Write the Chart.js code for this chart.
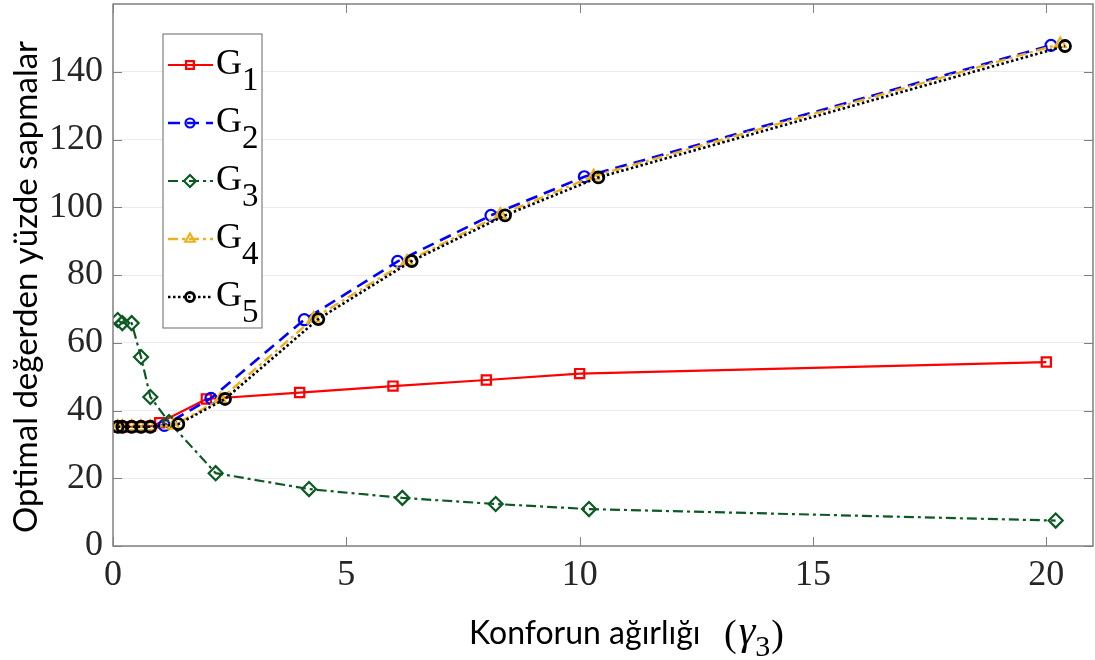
<!DOCTYPE html>
<html lang="tr">
<head>
<meta charset="utf-8">
<title>Optimal değerden yüzde sapmalar</title>
<script src="https://cdn.jsdelivr.net/npm/chart.js@4.4.1/dist/chart.umd.min.js"></script>
<style>
    html, body { margin: 0; padding: 0; background: #fff; }
    #grafik { display: block; }
</style>
</head>
<body>
<canvas id="grafik" width="1095" height="660"></canvas>
<script>
// ================= DATA =================
// x positions: from gamma3 = 1 on, each series is shifted a little to the right (as in the original)
const labels = ['G1', 'G2', 'G3', 'G4', 'G5']

const xG1 = [0.1, 0.2, 0.4, 0.6, 0.8, 1.0, 2.0, 4.0, 6.0, 8.0, 10.0, 20.0]
const yG1 = [35.2, 35.2, 35.2, 35.2, 35.3, 36.4, 43.4, 45.3, 47.2, 49.0, 50.9, 54.3]

const xG2 = [0.1, 0.2, 0.4, 0.6, 0.8, 1.1, 2.1, 4.1, 6.1, 8.1, 10.1, 20.1]
const yG2 = [35.2, 35.2, 35.2, 35.2, 35.2, 35.6, 43.6, 66.8, 84.0, 97.6, 109.0, 147.8]

const xG3 = [0.1, 0.2, 0.4, 0.6, 0.8, 1.2, 2.2, 4.2, 6.2, 8.2, 10.2, 20.2]
const yG3 = [66.7, 65.8, 65.8, 55.8, 44.0, 36.6, 21.5, 16.8, 14.2, 12.4, 10.9, 7.5]

const xG4 = [0.1, 0.2, 0.4, 0.6, 0.8, 1.3, 2.3, 4.3, 6.3, 8.3, 10.3, 20.3]
const yG4 = [35.2, 35.2, 35.2, 35.2, 35.2, 35.6, 43.3, 67.2, 84.0, 97.8, 109.2, 148.2]

const xG5 = [0.1, 0.2, 0.4, 0.6, 0.8, 1.4, 2.4, 4.4, 6.4, 8.4, 10.4, 20.4]
const yG5 = [35.2, 35.2, 35.2, 35.2, 35.2, 36.0, 43.4, 67.0, 84.1, 97.6, 108.8, 147.6]

// tick labels
const xTicks = [0, 5, 10, 15, 20]
const yTicks = [0, 20, 40, 60, 80, 100, 120, 140]

// ================= HELPERS =================

function pairs(xs, ys) {
    return xs.map((x, i) => ({ x: x, y: ys[i] }))
}

function series(i, xs, ys, color, dash, style, radius, width, markerWidth) {
    return {
        label: labels[i],
        data: pairs(xs, ys),
        borderColor: color,
        borderWidth: width,
        borderDash: dash,
        pointStyle: style,
        pointRadius: radius,
        pointBorderWidth: markerWidth,
        pointBorderColor: color,
        pointBackgroundColor: 'rgba(0,0,0,0)',
        fill: false,
        tension: 0,
        order: 5 - i        // last series on top, like MATLAB
    }
}

const serif = "'Liberation Serif', 'Times New Roman', serif"
const sans = "Lato, 'Open Sans', sans-serif"

// ================= PLUGINS =================

// box around the plot, with ticks pointing inwards on all four sides
const frame = {
    id: 'frame',
    afterDatasetsDraw(chart) {
        const { ctx, chartArea: a, scales: { x, y } } = chart
        const L = 9
        ctx.save()
        ctx.strokeStyle = '#808080'
        ctx.lineWidth = 1
        ctx.setLineDash([])
        ctx.beginPath()
        x.ticks.forEach(t => {
            const px = Math.round(x.getPixelForValue(t.value)) + 0.5
            ctx.moveTo(px, a.bottom); ctx.lineTo(px, a.bottom - L)
            ctx.moveTo(px, a.top); ctx.lineTo(px, a.top + L)
        })
        y.ticks.forEach(t => {
            const py = Math.round(y.getPixelForValue(t.value)) + 0.5
            ctx.moveTo(a.left, py); ctx.lineTo(a.left + L, py)
            ctx.moveTo(a.right, py); ctx.lineTo(a.right - L, py)
        })
        ctx.stroke()
        ctx.lineWidth = 1.5
        ctx.strokeRect(a.left, a.top, a.right - a.left, a.bottom - a.top)
        ctx.restore()
    }
}

// axis titles (the x title mixes a sans text with a serif math symbol)
const axisTitles = {
    id: 'axisTitles',
    afterDraw(chart) {
        const { ctx, chartArea: a } = chart
        ctx.save()
        ctx.fillStyle = '#000'

        // y title, rotated
        ctx.font = `33px ${sans}`
        ctx.textAlign = 'center'
        ctx.textBaseline = 'middle'
        ctx.translate(26, (a.top + a.bottom) / 2 + 12)
        ctx.rotate(-Math.PI / 2)
        ctx.fillText('Optimal değerden yüzde sapmalar', 0, 0)
        ctx.setTransform(1, 0, 0, 1, 0, 0)

        // x title
        const base = 644
        ctx.textAlign = 'left'
        ctx.textBaseline = 'alphabetic'
        ctx.font = `32px ${sans}`
        ctx.fillText('Konforun ağırlığı', 469, base)
        let px = 724
        ctx.font = `38px ${serif}`
        ctx.fillText('(', px, base + 2)
        px += ctx.measureText('(').width + 2
        ctx.font = `italic 42px ${serif}`
        ctx.fillText('γ', px, base)
        px += ctx.measureText('γ').width
        ctx.font = `30px ${serif}`
        ctx.fillText('3', px, base + 12)
        px += ctx.measureText('3').width + 1
        ctx.font = `38px ${serif}`
        ctx.fillText(')', px, base + 2)
        ctx.restore()
    }
}

// legend with subscripts: G1 ... G5
const legendG = {
    id: 'legendG',
    afterDraw(chart) {
        const { ctx, chartArea: a } = chart
        const bx = a.left + 50, by = a.top + 30, bw = 99, bh = 294
        ctx.save()
        ctx.fillStyle = '#fff'
        ctx.fillRect(bx, by, bw, bh)
        ctx.strokeStyle = '#808080'
        ctx.lineWidth = 1.2
        ctx.strokeRect(bx, by, bw, bh)

        chart.data.datasets.forEach((ds, i) => {
            const ry = by + 31 + i * 58
            // line sample
            ctx.strokeStyle = ds.borderColor
            ctx.lineWidth = ds.borderWidth
            ctx.setLineDash(ds.borderDash)
            ctx.beginPath()
            ctx.moveTo(bx + 5, ry)
            ctx.lineTo(bx + 50, ry)
            ctx.stroke()
            ctx.setLineDash([])
            // marker
            ctx.lineWidth = ds.pointBorderWidth
            ctx.fillStyle = ds.pointBackgroundColor
            Chart.helpers.drawPoint(ctx, {
                pointStyle: ds.pointStyle,
                radius: ds.pointRadius - 1,
                borderWidth: ds.pointBorderWidth,
                rotation: 0
            }, bx + 27, ry)
            // text
            ctx.fillStyle = '#000'
            ctx.textAlign = 'left'
            ctx.textBaseline = 'alphabetic'
            ctx.font = `36px ${serif}`
            ctx.fillText(ds.label.charAt(0), bx + 53, ry + 9)
            const w = ctx.measureText(ds.label.charAt(0)).width
            ctx.font = `33px ${serif}`
            ctx.fillText(ds.label.slice(1), bx + 53 + w, ry + 25)
        })
        ctx.restore()
    }
}

// ================= CHART =================

const tickFont = { family: serif, size: 36 }

new Chart(document.getElementById('grafik'), {
    type: 'line',
    data: {
        datasets: [
            series(0, xG1, yG1, '#ff0000', [], 'rect', 6.5, 2.2, 2.2),
            series(1, xG2, yG2, '#0000ff', [12, 7], 'circle', 5.5, 2.6, 2.2),
            series(2, xG3, yG3, '#0b5a22', [10, 4, 3, 4], 'rectRot', 7, 2.2, 2.2),
            series(3, xG4, yG4, '#edb120', [10, 4, 3, 4], 'triangle', 6.5, 2.4, 2.2),
            series(4, xG5, yG5, '#000000', [2.5, 2.5], 'circle', 5.5, 2.6, 2.8)
        ]
    },
    options: {
        responsive: false,
        animation: false,
        devicePixelRatio: 1,
        layout: {
            autoPadding: false,     // no extra room for the point markers
            padding: { top: 4, right: 2, left: 0, bottom: 0 }
        },
        plugins: {
            legend: { display: false },
            tooltip: { enabled: false }
        },
        scales: {
            x: {
                type: 'linear',
                min: 0,
                max: 21,
                afterBuildTicks: s => { s.ticks = xTicks.map(v => ({ value: v })) },
                afterFit: s => {
                    s.height = 114
                    s.paddingLeft = 0
                    s.paddingRight = 0
                },
                grid: { display: false, drawTicks: false },
                border: { display: false },
                ticks: { font: tickFont, color: '#262626', padding: 8, maxRotation: 0 }
            },
            y: {
                type: 'linear',
                min: 0,
                max: 160,
                afterBuildTicks: s => { s.ticks = yTicks.map(v => ({ value: v })) },
                afterFit: s => {
                    s.width = 113
                    s.paddingTop = 0
                    s.paddingBottom = 0
                },
                grid: { color: '#ebebeb', lineWidth: 1, drawTicks: false },
                border: { display: false },
                ticks: { font: tickFont, color: '#262626', padding: 10 }
            }
        }
    },
    plugins: [frame, axisTitles, legendG]
})
</script>
</body>
</html>
